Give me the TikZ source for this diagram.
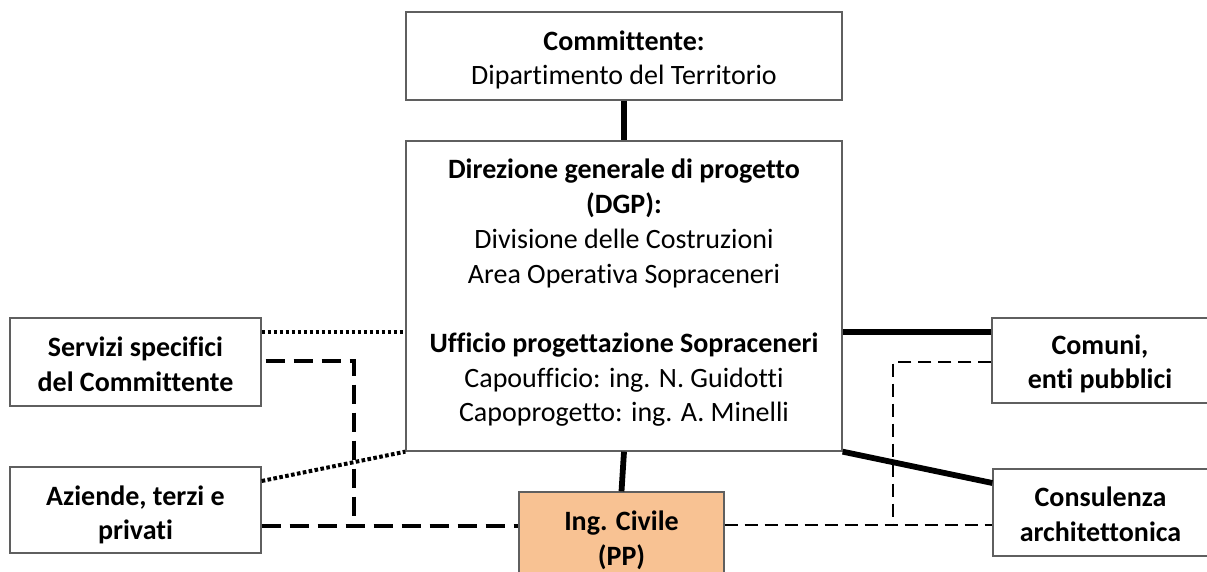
\documentclass[tikz,border=0pt]{standalone}
\usepackage{fontspec}
\setmainfont{Carlito}[Ligatures=NoCommon]
\definecolor{boxgray}{RGB}{95,95,95}
\definecolor{ingfill}{RGB}{248,194,147}
\tikzset{
  box/.style={draw=boxgray, line width=1.3pt, inner sep=0pt},
  txt/.style={align=center, inner sep=0pt, font=\fontsize{28}{34.7}\selectfont},
  thickline/.style={line width=5.8pt},
  dotline/.style={line width=4pt, dash pattern=on 3.6pt off 2.4pt},
  dashL/.style={line width=3.8pt, dash pattern=on 19pt off 9pt},
  dashR/.style={line width=2.8pt, dash pattern=on 13pt off 7pt},
}
\begin{document}
\begin{tikzpicture}[x=1pt,y=-1pt]
\useasboundingbox (0,0) rectangle (1207,571);
\fill[white] (0,0) rectangle (1207,571);
% boxes
\node[box, minimum width=436, minimum height=88] (top) at (624,56) {};
\node[box, minimum width=436, minimum height=310] (dgp) at (624,296) {};
\node[box, minimum width=251, minimum height=88] (serv) at (135.5,362) {};
\node[box, minimum width=251, minimum height=86] (az) at (135.5,510) {};
\node[box, minimum width=216, minimum height=85] (com) at (1100,360.5) {};
\node[box, minimum width=215, minimum height=87] (cons) at (1100.5,512.5) {};
\node[box, fill=ingfill, minimum width=205, minimum height=86] (ing) at (621.5,535) {};
% texts
\node[txt] (toptext) at ([yshift=-4]top.center)
  {\textbf{Committente:}\\Dipartimento del Territorio};
\node[txt] (dgptext) at ([yshift=3]dgp.center)
  {\textbf{Direzione generale di progetto}\\\textbf{(DGP):}\\Divisione delle Costruzioni\\Area Operativa Sopraceneri\\[34.7pt]\textbf{Ufficio progettazione Sopraceneri}\\Capoufficio: ing. N. Guidotti\\Capoprogetto: ing. A. Minelli};
\node[txt] (servtext) at ([yshift=-2.5]serv.center)
  {\textbf{Servizi specifici}\\\textbf{del Committente}};
\node[txt] (aztext) at ([yshift=-5]az.center)
  {\textbf{Aziende, terzi e}\\\textbf{privati}};
\node[txt] (comtext) at ([yshift=-3.5]com.center)
  {\textbf{Comuni,}\\\textbf{enti pubblici}};
\node[txt] (constext) at ([yshift=-1.5]cons.center)
  {\textbf{Consulenza}\\\textbf{architettonica}};
\node[txt] (ingtext) at ([yshift=-5.5]ing.center)
  {\textbf{Ing. Civile}\\\textbf{(PP)}};
\coordinate (jl) at (354,526);
\coordinate (jr) at (893,525);
% connectors
\draw[thickline] (top.south) -- (dgp.north);
\draw[thickline] (dgp.south) -- (ing.north);
\draw[dotline] ([yshift=30]serv.east) coordinate (a) -- (a -| dgp.west);
\draw[dotline] ([yshift=29]az.east) -- (dgp.south west);
\draw[thickline] ([yshift=28.5]com.west) coordinate (c) -- (c -| dgp.east);
\draw[thickline] (dgp.south east) -- ([yshift=29.5]cons.west);
\draw[dashL] ([xshift=4,yshift=1]serv.east) -| (jl);
\draw[dashL] ([yshift=-16]az.east) coordinate (b) -- (b -| ing.west);
\draw[dashR] ([yshift=10]ing.east) coordinate (r) -- (r -| cons.west);
\draw[dashR] ([yshift=-1.5]com.west) -| (jr);
\end{tikzpicture}
\end{document}
